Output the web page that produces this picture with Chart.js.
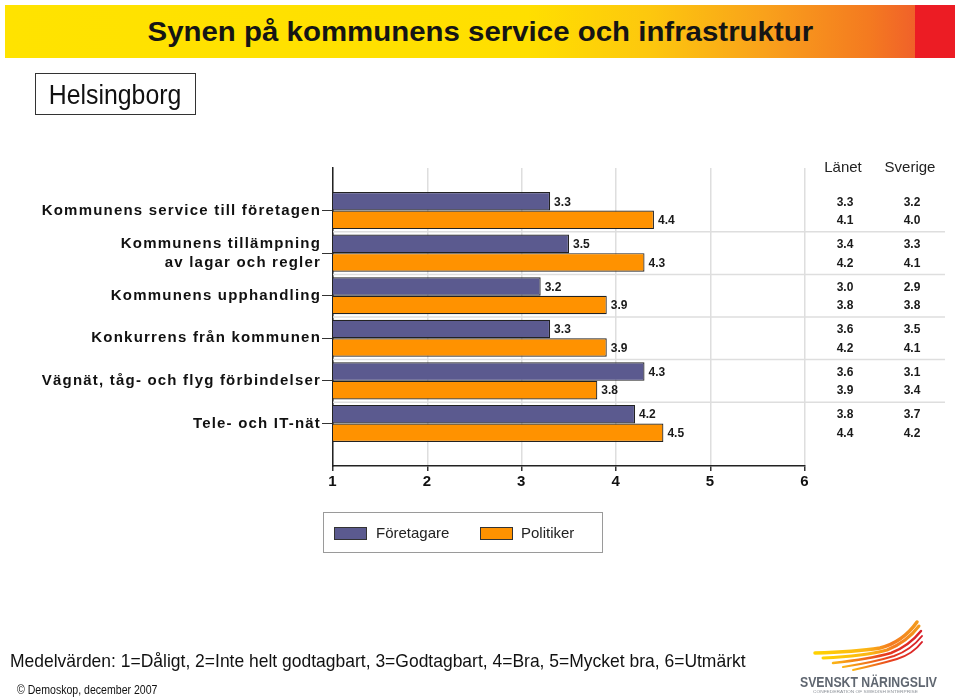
<!DOCTYPE html>
<html lang="sv">
<head>
<meta charset="UTF-8">
<title>Synen på kommunens service och infrastruktur</title>
<script src="https://cdn.jsdelivr.net/npm/chart.js"></script>
<style>
  body { margin: 0; background: #fff; font-family: "Liberation Sans", Arial, sans-serif; color: #111; }
  #page { position: relative; width: 960px; height: 698px; overflow: hidden; }
  #chartBox { position: absolute; left: 0; top: 0; width: 960px; height: 698px; }
  .banner {
    position: absolute; left: 5px; top: 5px; width: 950px; height: 53px;
    background: linear-gradient(to right, #ffe300 0%, #ffdf00 55%, #fdc70e 68%, #f9a11b 80%, #f47a20 91%, #f0602a 96%);
  }
  .banner .red { position: absolute; right: 0; top: 0; width: 40px; height: 53px; background: #ec1c24; }
  .banner .title {
    position: absolute; left: 0; width: 950px; top: 12px; text-align: center;
    font-size: 27px; font-weight: bold; color: #151515;
  }
  .banner .title span { display: inline-block; transform: scaleX(1.09); }
  .place {
    position: absolute; left: 35px; top: 73px; width: 159px; height: 40px;
    border: 1.5px solid #333; text-align: center; line-height: 42px; font-size: 27px;
  }
  .place span { display: inline-block; transform: scaleX(0.92); }
  #legend {
    position: absolute; left: 323px; top: 512px; width: 278px; height: 39px;
    border: 1.5px solid #9a9a9a; font-size: 15px; color: #222;
  }
  .item { position: absolute; top: 11px; line-height: 17px; }
  .sw { position: absolute; top: 3px; width: 31px; height: 11px; border: 1px solid #333; }
  .note { position: absolute; left: 10px; top: 650px; font-size: 19px; white-space: nowrap; transform: scaleX(0.92); transform-origin: left top; }
  .copy { position: absolute; left: 17px; top: 683px; font-size: 12px; white-space: nowrap; transform: scaleX(0.88); transform-origin: left top; }
  .logo { position: absolute; left: 795px; top: 612px; width: 155px; height: 86px; }
</style>
</head>
<body>
<div id="page">
  <div id="chartBox"><canvas id="myChart"></canvas></div>
  <div class="banner"><div class="red"></div><div class="title"><span>Synen på kommunens service och infrastruktur</span></div></div>
  <div class="place"><span>Helsingborg</span></div>
  <div id="legend"></div>
  <div class="note">Medelvärden: 1=Dåligt, 2=Inte helt godtagbart, 3=Godtagbart, 4=Bra, 5=Mycket bra, 6=Utmärkt</div>
  <div class="copy">© Demoskop, december 2007</div>
  <div class="logo">
    <svg width="155" height="86" viewBox="0 0 155 86">
      <defs>
        <linearGradient id="wing" x1="0" y1="0" x2="1" y2="0">
          <stop offset="0" stop-color="#ffd200"/>
          <stop offset="0.5" stop-color="#fbb515"/>
          <stop offset="0.75" stop-color="#f47a20"/>
          <stop offset="1" stop-color="#f39a1c"/>
        </linearGradient>
        <linearGradient id="wingRed" x1="0" y1="0" x2="1" y2="0">
          <stop offset="0" stop-color="#fbb515"/>
          <stop offset="0.6" stop-color="#e63a1f"/>
          <stop offset="1" stop-color="#d8202a"/>
        </linearGradient>
      </defs>
      <g fill="none" stroke-linecap="round">
        <path d="M20 41 Q60 40 85 36 Q108 30 122 10" stroke="url(#wing)" stroke-width="3.5"/>
        <path d="M28 46 Q70 44 92 38 Q112 30 124 14" stroke="url(#wing)" stroke-width="3"/>
        <path d="M38 51 Q75 47 96 41 Q114 34 126 19" stroke="url(#wingRed)" stroke-width="2.5"/>
        <path d="M48 55 Q80 50 99 44 Q116 38 127 24" stroke="url(#wingRed)" stroke-width="2"/>
        <path d="M58 58 Q85 52 102 47 Q118 42 127 30" stroke="url(#wingRed)" stroke-width="2"/>
      </g>
      <text x="5" y="75" font-family="Liberation Sans, Arial, sans-serif" font-weight="bold" font-size="14" fill="#5f6670" textLength="137" lengthAdjust="spacingAndGlyphs">SVENSKT NÄRINGSLIV</text>
      <text x="18" y="81" font-family="Liberation Sans, Arial, sans-serif" font-size="4.2" fill="#8a8f96" textLength="105" lengthAdjust="spacingAndGlyphs">CONFEDERATION OF SWEDISH ENTERPRISE</text>
    </svg>
  </div>
</div>

<script>
// categories and series
const categories = [
  'Kommunens service till företagen',
  ['Kommunens tillämpning', 'av lagar och regler'],
  'Kommunens upphandling',
  'Konkurrens från kommunen',
  'Vägnät, tåg- och flyg förbindelser',
  'Tele- och IT-nät'
];
const seriesNames = ['Företagare', 'Politiker'];
const seriesColors = ['#5b5a8f', '#ff9200'];
const foretagare = [3.3, 3.5, 3.2, 3.3, 4.3, 4.2];
const politiker = [4.4, 4.3, 3.9, 3.9, 3.8, 4.5];

// comparison columns on the right
const tableHeads = ['Länet', 'Sverige'];
const lanetForetagare = [3.3, 3.4, 3.0, 3.6, 3.6, 3.8];
const lanetPolitiker = [4.1, 4.2, 3.8, 4.2, 3.9, 4.4];
const sverigeForetagare = [3.2, 3.3, 2.9, 3.5, 3.1, 3.7];
const sverigePolitiker = [4.0, 4.1, 3.8, 4.1, 3.4, 4.2];
const scaleTicks = [1, 2, 3, 4, 5, 6];

const toPoints = arr => arr.map((v, i) => ({ x: v, y: i }));

const extras = {
  id: 'extras',
  beforeDraw(chart) {
    chart.ctx.letterSpacing = '1.2px';
  },
  beforeDatasetsDraw(chart) {
    const ctx = chart.ctx;
    ctx.letterSpacing = '0px';
    const ys = chart.scales.y, area = chart.chartArea;
    ctx.save();
    ctx.strokeStyle = '#dedede';
    ctx.lineWidth = 1.5;
    for (let i = 0; i < categories.length - 1; i++) {
      const py = ys.getPixelForValue(i + 0.5);
      ctx.beginPath();
      ctx.moveTo(area.left, py);
      ctx.lineTo(945, py);
      ctx.stroke();
    }
    ctx.restore();
  },
  afterDatasetsDraw(chart) {
    const ctx = chart.ctx, area = chart.chartArea;
    ctx.save();
    ctx.fillStyle = '#1a1a1a';
    ctx.textBaseline = 'middle';
    ctx.font = 'bold 12px "Liberation Sans", Arial, sans-serif';
    // value labels at bar ends
    chart.data.datasets.forEach((ds, d) => {
      chart.getDatasetMeta(d).data.forEach((bar, j) => {
        ctx.textAlign = 'left';
        ctx.fillText(ds.data[j].x.toFixed(1), bar.x + 4, bar.y + 1);
      });
    });
    // right-hand table
    const cols = [
      { x: 845, rows: [lanetForetagare, lanetPolitiker] },
      { x: 912, rows: [sverigeForetagare, sverigePolitiker] }
    ];
    ctx.textAlign = 'center';
    cols.forEach(c => {
      c.rows.forEach((arr, d) => {
        chart.getDatasetMeta(d).data.forEach((bar, j) => {
          ctx.fillText(arr[j].toFixed(1), c.x, bar.y + 1);
        });
      });
    });
    ctx.font = '15px "Liberation Sans", Arial, sans-serif';
    ctx.fillStyle = '#222';
    ctx.fillText(tableHeads[0], 843, area.top);
    ctx.fillText(tableHeads[1], 910, area.top);
    ctx.restore();
  }
};

const ctx = document.getElementById('myChart');
const myChart = new Chart(ctx, {
  type: 'bar',
  data: {
    datasets: [
      { label: seriesNames[0], data: toPoints(foretagare), backgroundColor: seriesColors[0], borderColor: '#222', borderWidth: 1.2 },
      { label: seriesNames[1], data: toPoints(politiker), backgroundColor: seriesColors[1], borderColor: '#222', borderWidth: 1.2 }
    ]
  },
  options: {
    indexAxis: 'y',
    responsive: true,
    maintainAspectRatio: false,
    animation: false,
    categoryPercentage: 0.87,
    barPercentage: 1,
    layout: { padding: { left: 0, top: 168, right: 155, bottom: 202 } },
    plugins: { legend: { display: false }, tooltip: { enabled: false } },
    scales: {
      x: {
        type: 'linear',
        min: scaleTicks[0],
        max: scaleTicks[scaleTicks.length - 1],
        afterBuildTicks: s => { s.ticks = scaleTicks.map(v => ({ value: v })); },
        afterFit: s => { s.height = 30; },
        ticks: { color: '#111', padding: 2, font: { family: '"Liberation Sans", Arial, sans-serif', size: 15, weight: 'bold' } },
        grid: { color: '#dedede', lineWidth: 1.5, tickColor: '#333', tickLength: 5 },
        border: { color: '#222', width: 1.5 }
      },
      y: {
        type: 'linear',
        reverse: true,
        offset: false,
        min: -1,
        max: 6,
        afterBuildTicks: s => { s.ticks = categories.map((c, i) => ({ value: i })); },
        afterFit: s => { s.width = 333; },
        ticks: {
          autoSkip: false,
          padding: 1,
          color: '#111',
          callback: v => categories[v],
          font: { family: '"Liberation Sans", Arial, sans-serif', size: 15, weight: 'bold', lineHeight: 1.25 }
        },
        grid: { offset: false, color: 'rgba(0,0,0,0)', drawOnChartArea: false, tickColor: '#333', tickLength: 11 },
        border: { color: '#222', width: 1.5 }
      }
    }
  },
  plugins: [extras]
});

// legend from the series
const legend = document.getElementById('legend');
const legendX = [[10, 52], [156, 197]];
myChart.data.datasets.forEach((ds, i) => {
  const sw = document.createElement('div');
  sw.className = 'sw';
  sw.style.left = legendX[i][0] + 'px';
  sw.style.top = '14px';
  sw.style.background = ds.backgroundColor;
  legend.appendChild(sw);
  const t = document.createElement('div');
  t.className = 'item';
  t.style.left = legendX[i][1] + 'px';
  t.textContent = ds.label;
  legend.appendChild(t);
});
</script>
</body>
</html>
